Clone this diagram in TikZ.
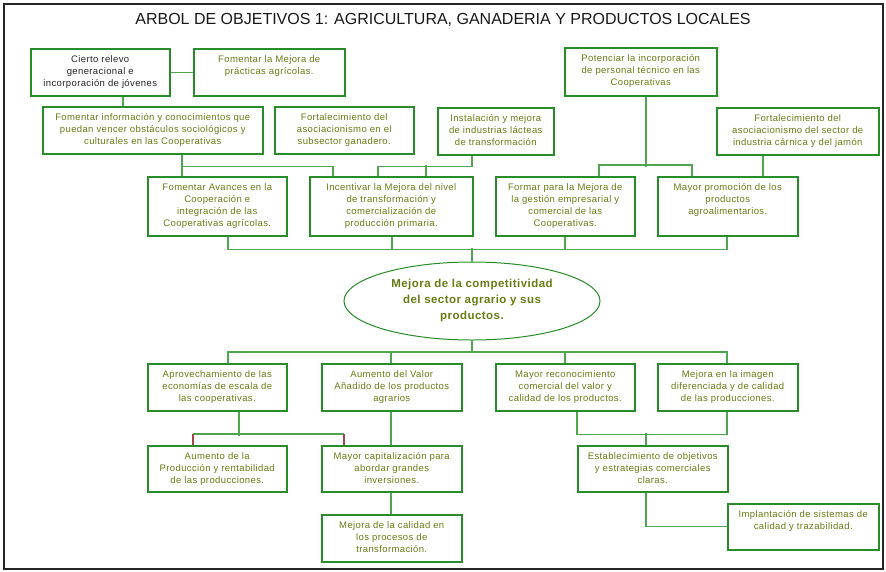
\documentclass[tikz,border=0pt]{standalone}
\usepackage{fontspec}
\setmainfont{Liberation Sans}
\newfontfamily\boxfont{Liberation Sans}[LetterSpace=4]
\usetikzlibrary{shapes.geometric}
\definecolor{boxgreen}{RGB}{40,140,40}
\definecolor{linegreen}{RGB}{80,166,80}
\definecolor{txtol}{RGB}{104,124,20}
\definecolor{dropred}{RGB}{165,70,70}
\tikzset{
  gbox/.style={draw=boxgreen, line width=1.5pt, inner sep=0pt, anchor=north west,
    font=\boxfont\fontsize{9.5}{12}\selectfont},
  conn/.style={draw=linegreen, line width=1.4pt},
  redconn/.style={draw=dropred, line width=1.4pt},
}
\newcommand{\mybox}[7][txtol]{%
  \node[gbox, text=#1] (#2) at (#3,#4)
    {\parbox[t][#6pt][t]{#5pt}{\centering\rule{0pt}{14pt}#7}};}
\begin{document}
\begin{tikzpicture}[x=1pt,y=-1pt]
\useasboundingbox (0,0) rectangle (886,571);
\fill[white] (0,0) rectangle (886,571);
\draw[line width=1.6pt, black!85] (4,4) rectangle (883,569);

\node[text=black!90] (title) at (443,20) {\fontsize{16}{18}\selectfont ARBOL DE OBJETIVOS 1: AGRICULTURA, GANADERIA Y PRODUCTOS LOCALES};

% upper boxes
\mybox[black!85]{A}{30}{48}{139}{47}{Cierto relevo\\generacional e\\incorporación de jóvenes}
\mybox{B}{193}{48}{151}{47}{Fomentar la Mejora de\\prácticas agrícolas.}
\mybox{C}{42}{106}{220}{47}{Fomentar información y conocimientos que\\puedan vencer obstáculos sociológicos y\\culturales en las Cooperativas}
\mybox{D}{274}{106}{139}{47}{Fortalecimiento del\\asociacionismo en el\\subsector ganadero.}
\mybox{E}{437}{107}{116}{47}{Instalación y mejora\\de industrias lácteas\\de transformación}
\mybox{F}{564}{47}{152}{48}{Potenciar la incorporación\\de personal técnico en las\\Cooperativas}
\mybox{G}{716}{107}{162}{47}{Fortalecimiento del\\asociacionismo del sector de\\industria cárnica y del jamón}
\mybox{H}{147}{176}{139}{59}{Fomentar Avances en la\\Cooperación e\\integración de las\\Cooperativas agrícolas.}
\mybox{I}{309}{176}{163}{59}{Incentivar la Mejora del nivel\\de transformación y\\comercialización de\\producción primaria.}
\mybox{J}{495}{176}{139}{59}{Formar para la Mejora de\\la gestión empresarial y\\comercial de las\\Cooperativas.}
\mybox{K}{657}{176}{140}{59}{Mayor promoción de los\\productos\\agroalimentarios.}

% central ellipse
\node[ellipse, draw=boxgreen, line width=1pt, minimum width=256pt, minimum height=78pt,
  inner sep=0pt, text=txtol, align=center,
  font=\boxfont\bfseries\fontsize{11.5}{16}\selectfont] (E0) at (472,301)
  {Mejora de la competitividad\\del sector agrario y sus\\productos.};

% lower boxes
\mybox{L}{147}{363}{139}{47}{Aprovechamiento de las\\economías de escala de\\las cooperativas.}
\mybox{M}{321}{363}{140}{47}{Aumento del Valor\\Añadido de los productos\\agrarios}
\mybox{Q}{495}{363}{139}{47}{Mayor reconocimiento\\comercial del valor y\\calidad de los productos.}
\mybox{R}{657}{363}{140}{47}{Mejora en la imagen\\diferenciada y de calidad\\de las producciones.}
\mybox{N}{147}{445}{139}{46}{Aumento de la\\Producción y rentabilidad\\de las producciones.}
\mybox{O}{321}{445}{140}{46}{Mayor capitalización para\\abordar grandes\\inversiones.}
\mybox{P}{321}{514}{140}{47}{Mejora de la calidad en\\los procesos de\\transformación.}
\mybox{S}{577}{445}{150}{46}{Establecimiento de objetivos\\y estrategias comerciales\\claras.}
\mybox{T}{727}{503}{151}{46}{Implantación de sistemas de\\calidad y trazabilidad.}

% upper connectors
\draw[conn] (A.east) -- (B.west);
\draw[conn] ([xshift=93pt]A.south west) -- ([xshift=81pt]C.north west);
\draw[conn] ([xshift=140pt]C.south west) -- ([xshift=35pt]H.north west);
\draw[conn] ([xshift=140pt]C.south west) -- ++(0,12) -| ([xshift=24pt]I.north west);
\draw[conn] ([xshift=35pt]E.south west) -- ++(0,11) -| ([xshift=69pt]I.north west);
\draw[conn] ([xshift=117pt]I.north west) -- ++(0,-11);
\draw[conn] ([xshift=82pt]F.south west) -- ++(0,70);
\draw[conn] ([xshift=104pt]J.north west) -- ++(0,-11) -| ([xshift=35pt]K.north west);
\draw[conn] ([xshift=47pt]G.south west) -- ([xshift=106pt]K.north west);

% to ellipse
\draw[conn] ([xshift=81pt]H.south west) -- ++(0,13) -| ([xshift=70pt]K.south west);
\draw[conn] ([xshift=83pt]I.south west) -- ++(0,13);
\draw[conn] ([xshift=70pt]J.south west) -- ++(0,13);
\draw[conn] (E0.north) -- ++(0,-14);

% from ellipse
\draw[conn] (E0.south) -- ++(0,12);
\draw[conn] ([xshift=81pt]L.north west) -- ++(0,-11) -| ([xshift=70pt]R.north west);
\draw[conn] ([xshift=70pt]M.north west) -- ++(0,-11);
\draw[conn] ([xshift=70pt]Q.north west) -- ++(0,-11);

% lower connectors
\draw[conn] ([xshift=92pt]L.south west) -- ++(0,24);
\draw[conn] ([xshift=46pt,yshift=11pt]N.north west) -- ([xshift=23pt,yshift=11pt]O.north west);
\draw[redconn] ([xshift=46pt]N.north west) -- ++(0,-11);
\draw[redconn] ([xshift=23pt]O.north west) -- ++(0,-11);
\draw[conn] ([xshift=70pt]M.south west) -- ([xshift=70pt]O.north west);
\draw[conn] ([xshift=70pt]O.south west) -- ([xshift=70pt]P.north west);
\draw[conn] ([xshift=82pt]Q.south west) -- ++(0,23) -| ([xshift=70pt]R.south west);
\draw[conn] ([xshift=69pt]S.north west) -- ++(0,-12);
\draw[conn] ([xshift=69pt]S.south west) |- (T.west);
\end{tikzpicture}
\end{document}
